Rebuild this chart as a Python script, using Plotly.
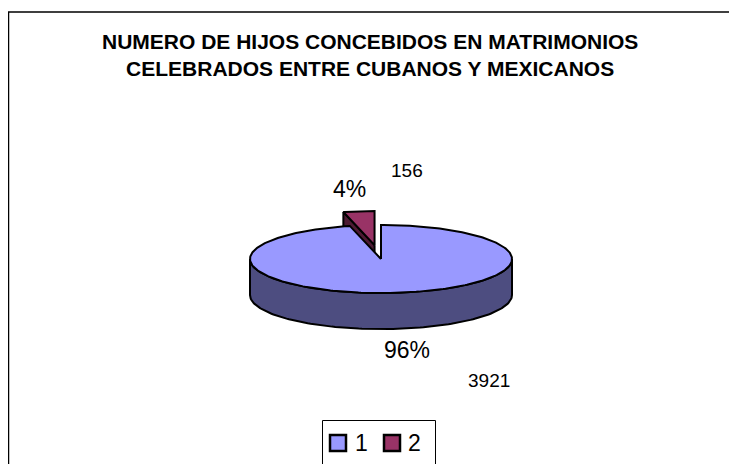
import numpy as np
import plotly.graph_objects as go

# ---- data ----
categories = ["1", "2"]
values = [3921, 156]
title_lines = ["NUMERO DE HIJOS CONCEBIDOS EN MATRIMONIOS",
               "CELEBRADOS ENTRE CUBANOS Y MEXICANOS"]

# ---- style ----
top_colors = ["#9999FF", "#993366"]
side_colors = ["#4D4D80", "#4D1A33"]
W, H = 737, 464
OFF = 8                              # page body margin of the html
CX, CY, R = 381 - OFF, 259 - OFF, 131  # centre / radius of the pie (px)
K = 0.26                             # vertical squash of the ellipse
DEPTH = 0.275                        # pie thickness (radius units)
EXPLODE = 0.41                       # explode of slice 2 (radius units)
FONT = "Liberation Sans, Arial, sans-serif"

total = sum(values)
fracs = [v / total for v in values]
bounds = np.concatenate([[0], np.cumsum(fracs) * 360])


def pt(theta_deg, r=1.0):
    t = np.radians(theta_deg)
    return r * np.sin(t), K * r * np.cos(t)


def arc(a0, a1, n=120):
    th = np.linspace(a0, a1, n)
    x, y = pt(th)
    return list(x), list(y)


fig = go.Figure()
line = dict(color="black", width=2)


def poly(xs, ys, color):
    fig.add_trace(go.Scatter(x=xs + [xs[0]], y=ys + [ys[0]], mode="lines",
                             fill="toself", fillcolor=color, line=line,
                             hoverinfo="skip", showlegend=False))


# slice 2 (exploded, drawn first: it lies behind)
a0, a1 = bounds[1], bounds[2]
mid = np.radians((a0 + a1) / 2)
ox, oy = EXPLODE * np.sin(mid), EXPLODE * K * np.cos(mid)
px0, py0 = pt(a0)
poly([ox, px0 + ox, px0 + ox, ox],
     [oy, py0 + oy, py0 + oy - DEPTH, oy - DEPTH], side_colors[1])
ax, ay = arc(a0, a1)
poly([ox] + [v + ox for v in ax], [oy] + [v + oy for v in ay], top_colors[1])

# slice 1 side (front half)
s0, s1 = max(bounds[0], 90), min(bounds[1], 270)
tx, ty = arc(s0, s1)
bx, by = arc(s1, s0)
poly(tx + bx, ty + [v - DEPTH for v in by], side_colors[0])
# slice 1 top
ax, ay = arc(bounds[0], bounds[1], 300)
poly([0] + ax, [0] + ay, top_colors[0])


def px2paper(px, py):
    return (px - OFF) / W, 1 - (py - OFF) / H


def to_u(px, py):
    return (px - OFF - CX) / R, (CY - (py - OFF)) / R


# ---- data labels ----
pct = [f"{round(f * 100)}%" for f in fracs]
labels = [
    (pct[1], 349, 189, 23),
    (str(values[1]), 407, 170, 19),
    (pct[0], 407, 350, 23),
    (str(values[0]), 489, 380, 19),
]
for txt, px, py, fs in labels:
    x, y = to_u(px, py)
    fig.add_annotation(x=x, y=y, text=txt, showarrow=False,
                       xanchor="center", yanchor="middle",
                       font=dict(family=FONT, size=fs, color="black"))

# ---- title ----
tx_, ty_ = px2paper(370, 55)
fig.add_annotation(x=tx_, y=ty_, xref="paper", yref="paper",
                   text="<b>" + "<br>".join(title_lines) + "</b>",
                   showarrow=False, xanchor="center", yanchor="middle",
                   font=dict(family=FONT, size=21, color="black"))

# ---- outer chart border ----
bx0, by1 = px2paper(8.5, 12)
fig.add_shape(type="rect", xref="paper", yref="paper",
              x0=bx0, y0=-0.05, x1=1.05, y1=by1,
              line=dict(color="black", width=1.5))

# ---- legend (box, keys, texts) ----
lx0, ly0 = px2paper(322.5, 420.5)
lx1, ly1 = px2paper(435.5, 470)
fig.add_shape(type="rect", xref="paper", yref="paper",
              x0=lx0, y0=ly1, x1=lx1, y1=ly0,
              line=dict(color="black", width=1), fillcolor="white")
key_x = [338, 392]
text_x = [361, 414]
for cat, col, kx, txp in zip(categories, top_colors, key_x, text_x):
    k0x, k0y = px2paper(kx - 8, 435)
    k1x, k1y = px2paper(kx + 8, 451)
    fig.add_shape(type="rect", xref="paper", yref="paper",
                  x0=k0x, y0=k1y, x1=k1x, y1=k0y, fillcolor=col,
                  line=dict(color="black", width=2.5))
    t_x, t_y = px2paper(txp, 443)
    fig.add_annotation(x=t_x, y=t_y, xref="paper", yref="paper", text=cat,
                       showarrow=False, xanchor="center", yanchor="middle",
                       font=dict(family=FONT, size=23, color="black"))

fig.update_layout(
    width=W, height=H, margin=dict(l=0, r=0, t=0, b=0),
    paper_bgcolor="white", plot_bgcolor="white",
    xaxis=dict(range=[-CX / R, (W - CX) / R], visible=False, fixedrange=True),
    yaxis=dict(range=[-(H - CY) / R, CY / R], visible=False, fixedrange=True),
    showlegend=False,
)

fig.write_html("out.html")
